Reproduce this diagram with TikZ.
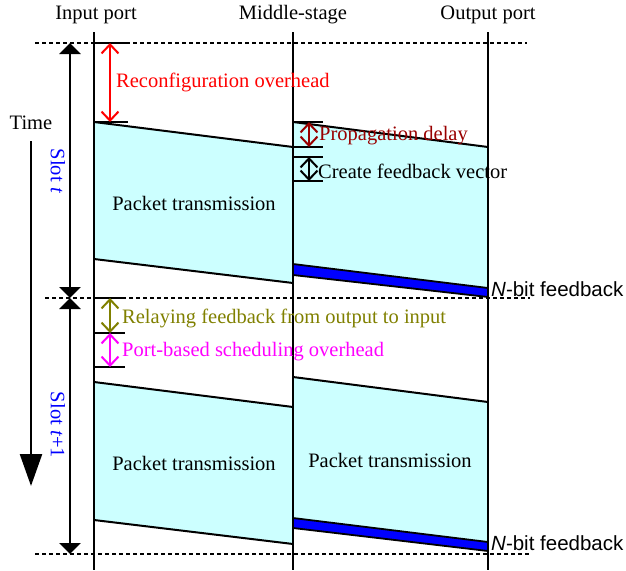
\documentclass[tikz,border=0pt]{standalone}
\usepackage{fontspec}
\setmainfont{Liberation Serif}
\newfontfamily\arialfont{Liberation Sans}
\usetikzlibrary{arrows.meta}
\definecolor{pktcyan}{RGB}{204,255,255}
\definecolor{mydarkred}{RGB}{153,0,0}
\definecolor{myolive}{RGB}{128,128,0}
\definecolor{mymagenta}{RGB}{255,0,255}
\definecolor{myblue}{RGB}{0,0,255}
\definecolor{myred}{RGB}{255,0,0}
\begin{document}
\begin{tikzpicture}[x=1pt,y=-1pt, font=\fontsize{20.5}{24}\selectfont,
 port/.style={line width=2.4pt},
 sepline/.style={line width=1.7pt, dash pattern=on 4pt off 3pt},
 blockedge/.style={line width=2pt},
 tickline/.style={line width=2pt},
 dimarrow/.style={line width=2pt, {Straight Barb[length=9pt,width=17pt]}-{Straight Barb[length=9pt,width=17pt]}},
 slotarrow/.style={line width=2.4pt, {Triangle[length=11pt,width=21pt]}-{Triangle[length=11pt,width=21pt]}},
 lbl/.style={anchor=west, inner sep=0pt},
 ctr/.style={inner sep=0pt},
 band/.style={fill=myblue, draw=black, line width=1.8pt},
 ]
\useasboundingbox (0,0) rectangle (626,570);

% packet blocks
\fill[pktcyan] (94,122) -- (293,147) -- (293,283) -- (94,259) -- cycle;
\draw[blockedge] (94,122) -- (293,147);
\draw[blockedge] (94,259) -- (293,283);
\fill[pktcyan] (293,122) -- (488,147) -- (488,292) -- (293,268) -- cycle;
\draw[blockedge] (293,122) -- (488,147);
\draw[band] (293,264) -- (488,288) -- (488,297) -- (293,275) -- cycle;

\fill[pktcyan] (94,382) -- (293,407) -- (293,544) -- (94,520) -- cycle;
\draw[blockedge] (94,382) -- (293,407);
\draw[blockedge] (94,520) -- (293,544);
\fill[pktcyan] (293,377) -- (488,402) -- (488,546) -- (293,522) -- cycle;
\draw[blockedge] (293,377) -- (488,402);
\draw[band] (293,518) -- (488,542) -- (488,551) -- (293,528) -- cycle;

% headers
\node[ctr] (hin) at (96,15) {Input port};
\node[ctr] (hmid) at (293,15) {Middle-stage};
\node[ctr] (hout) at (488,15) {Output port};

% port lines
\coordinate (inT) at (94,32);  \coordinate (inB) at (94,570);
\coordinate (midT) at (293,32); \coordinate (midB) at (293,570);
\coordinate (outT) at (488,32); \coordinate (outB) at (488,570);
\draw[port] (inT) -- (inB);
\draw[port] (midT) -- (midB);
\draw[port] (outT) -- (outB);

% slot boundaries
\coordinate (s0L) at (35,43);  \coordinate (s0R) at (527,43);
\coordinate (s1L) at (45,298); \coordinate (s1R) at (530,298);
\coordinate (s2L) at (35,554); \coordinate (s2R) at (530,554);
\draw[sepline] (s0L) -- (s0R);
\draw[sepline] (s1L) -- (s1R);
\draw[sepline] (s2L) -- (s2R);

% time and slot arrows
\node[ctr] (time) at (31,123) {Time};
\coordinate (tA) at (31,141); \coordinate (tB) at (31,486);
\draw[line width=2.4pt, -{Triangle[length=32pt,width=22pt]}] (tA) -- (tB);
\coordinate (a0) at (70,43); \coordinate (a1) at (70,298); \coordinate (a2) at (70,554);
\draw[slotarrow] (a0) -- (a1);
\draw[slotarrow] (a1) -- (a2);
\node[ctr, rotate=-90, text=myblue] (slt) at (58,171) {Slot \textit{t}};
\node[ctr, rotate=-90, text=myblue] (slt1) at (58,425) {Slot \textit{t}+1};

% reconfiguration overhead
\draw[tickline] (94,43) -- (128,43);
\draw[tickline] (94,122) -- (128,122);
\coordinate (r0) at (110,43); \coordinate (r1) at (110,122);
\draw[dimarrow, myred] (r0) -- (r1);
\node[lbl, text=myred] (reconf) at (116,82) {Reconfiguration overhead};

% propagation delay and feedback vector
\draw[tickline] (293,122) -- (323,122);
\draw[tickline] (293,147) -- (323,147);
\draw[tickline] (293,157) -- (323,157);
\draw[tickline] (293,181) -- (323,181);
\coordinate (p0) at (309,122); \coordinate (p1) at (309,147);
\coordinate (c0) at (309,157); \coordinate (c1) at (309,181);
\draw[dimarrow, mydarkred] (p0) -- (p1);
\draw[dimarrow, black] (c0) -- (c1);
\node[lbl, text=mydarkred] (prop) at (319,136) {Propagation delay};
\node[lbl] (cfv) at (318,171) {Create feedback vector};

% relaying and scheduling
\draw[tickline] (94,298) -- (125,298);
\draw[tickline] (94,333) -- (125,333);
\draw[tickline] (94,367) -- (125,367);
\coordinate (q0) at (110,298); \coordinate (q1) at (110,333); \coordinate (q2) at (110,367);
\draw[dimarrow, myolive] (q0) -- (q1);
\draw[dimarrow, mymagenta] (q1) -- (q2);
\node[lbl, text=myolive] (relay) at (122,318) {Relaying feedback from output to input};
\node[lbl, text=mymagenta] (sched) at (122,352) {Port-based scheduling overhead};

% packet labels
\node[ctr] (pk1) at (194,203) {Packet transmission};
\node[ctr] (pk2) at (194,463) {Packet transmission};
\node[ctr] (pk3) at (390,460) {Packet transmission};

% feedback labels
\node[lbl, font=\arialfont\fontsize{20.5}{24}\selectfont] (fb1) at (491,289) {\textit{N}-bit feedback};
\node[lbl, font=\arialfont\fontsize{20.5}{24}\selectfont] (fb2) at (491,543) {\textit{N}-bit feedback};
\end{tikzpicture}
\end{document}
